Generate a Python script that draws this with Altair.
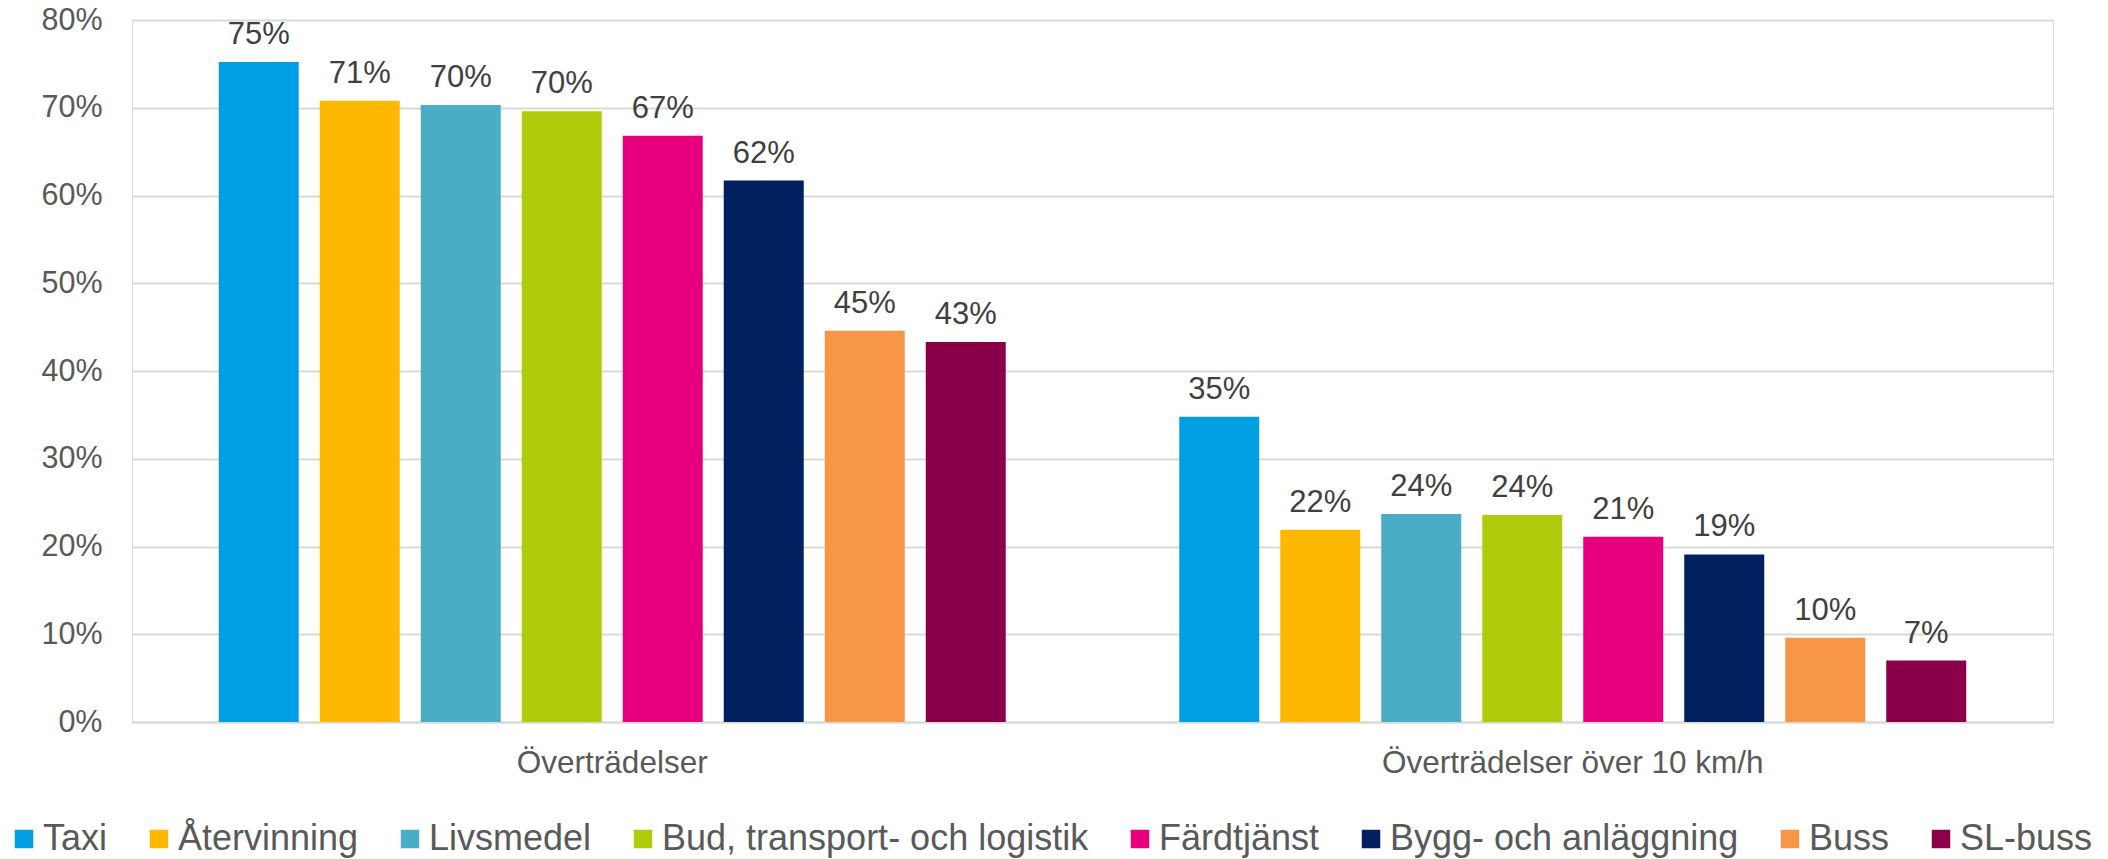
import altair as alt
import pandas as pd

groups = ["Överträdelser", "Överträdelser över 10 km/h"]
categories = ["Taxi", "Återvinning", "Livsmedel", "Bud, transport- och logistik",
              "Färdtjänst", "Bygg- och anläggning", "Buss", "SL-buss"]
colors = ["#009FE3", "#FFB800", "#4BACC6", "#B0CB0B", "#E6007E", "#002060", "#F79646", "#8A0048"]
values_all = [0.752, 0.708, 0.703, 0.696, 0.668, 0.617, 0.446, 0.433]
values_over10 = [0.348, 0.219, 0.237, 0.236, 0.211, 0.191, 0.096, 0.070]

rows = []
for g, vals in zip(groups, [values_all, values_over10]):
    for c, v in zip(categories, vals):
        rows.append({"grupp": g, "kategori": c, "andel": v})
df = pd.DataFrame(rows)

FONT = "Liberation Sans"

x = alt.X("grupp:N", sort=groups, title=None,
          scale=alt.Scale(paddingInner=0, paddingOuter=0),
          axis=alt.Axis(labelAngle=0, labelFontSize=31.5, labelColor="#595959", labelFont=FONT,
                        labelLimit=2000,
                        ticks=False, tickSize=0, labelPadding=25, domain=True,
                        domainColor="#D9D9D9", domainWidth=2, grid=False))
xo = alt.XOffset("kategori:N", sort=categories,
                 scale=alt.Scale(paddingInner=0.208, paddingOuter=0.859))
y = alt.Y("andel:Q", title=None,
          scale=alt.Scale(domain=[0, 0.8], nice=False),
          axis=alt.Axis(format=".0%", values=[0, 0.1, 0.2, 0.3, 0.4, 0.5, 0.6, 0.7, 0.8],
                        labelFontSize=30.5, labelColor="#595959", labelFont=FONT,
                        ticks=False, tickSize=0, labelPadding=30, domain=False,
                        grid=True, gridColor="#D9D9D9", gridWidth=2))

color = alt.Color("kategori:N", sort=categories,
                  scale=alt.Scale(domain=categories, range=colors),
                  legend=alt.Legend(title=None, orient="none", direction="horizontal",
                                    columns=8, legendX=-126, legendY=801,
                                    symbolType="square", symbolSize=342, symbolStrokeWidth=0,
                                    labelFontSize=36, labelColor="#595959", labelFont=FONT,
                                    labelOffset=1, columnPadding=33, padding=0,
                                    labelLimit=1000))

bars = alt.Chart(df).mark_bar().encode(x=x, xOffset=xo, y=y, color=color)
labels = alt.Chart(df).mark_text(dy=-18, baseline="alphabetic", fontSize=31,
                                 font=FONT, color="#404040").encode(
    x=x, xOffset=xo, y=y, text=alt.Text("andel:Q", format=".0%"))

chart = (bars + labels).properties(
    width=1921, height=702,
    autosize=alt.AutoSizeParams(type="none"),
    padding={"left": 124, "top": 12, "right": 45, "bottom": 145},
).configure_view(stroke=None).configure(font=FONT, background="white")

chart.save("out.html", embed_options={"renderer": "svg", "actions": False})
